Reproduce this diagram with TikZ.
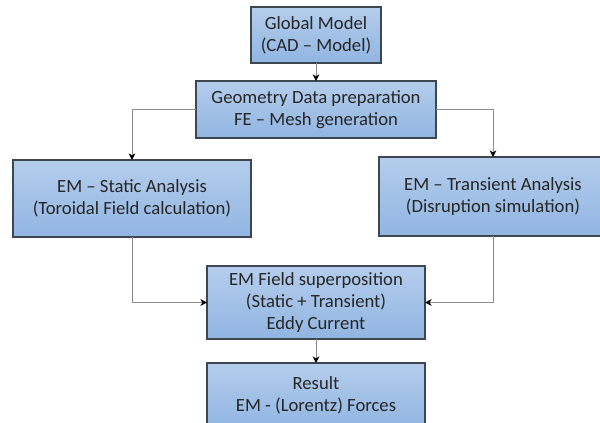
\documentclass[tikz,border=0pt]{standalone}
\usepackage{fontspec}
\setmainfont{Carlito}
\usetikzlibrary{arrows.meta}

\definecolor{boxtop}{HTML}{B4CDEC}
\definecolor{boxbot}{HTML}{91B5E2}
\definecolor{boxline}{HTML}{3E464F}
\definecolor{linkgray}{HTML}{8C8C8C}
\definecolor{boxtext}{HTML}{262626}

\tikzset{
  stepbox/.style={draw=boxline, line width=0.9pt, top color=boxtop, bottom color=boxbot,
    inner sep=0pt, outer sep=0pt, align=center, text=boxtext,
    font=\fontsize{14pt}{16.5pt}\selectfont},
  link/.style={draw=linkgray, line width=0.6pt, -{Stealth[length=5pt,width=5pt,inset=1.6pt,color=black]}}
}

\begin{document}
\begin{tikzpicture}[x=0.75pt, y=-0.75pt]

  \clip (0,0) rectangle (600,423);

  \node[stepbox, minimum width=97.5pt, minimum height=42pt] (glob) at (316,35) {Global Model\\(CAD – Model)};
  \node[stepbox, minimum width=180pt, minimum height=42.75pt] (geom) at (316,109.5) {Geometry Data preparation\\FE – Mesh generation};
  \node[stepbox, minimum width=178.5pt, minimum height=57.75pt] (static) at (132,198.5) {EM – Static Analysis\\(Toroidal Field calculation)};
  \node[stepbox, minimum width=171pt, minimum height=59.25pt] (trans) at (493,196.5) {EM – Transient Analysis\\(Disruption simulation)};
  \node[stepbox, minimum width=163.5pt, minimum height=54.75pt] (superpos) at (316,302.5) {EM Field superposition\\(Static + Transient)\\Eddy Current};
  \node[stepbox, minimum width=163.5pt, minimum height=48.75pt] (result) at (316,395.5) {Result\\EM - (Lorentz) Forces};

  \draw[link] (glob) -- (geom);
  \draw[link] (geom.west) -| (static.north);
  \draw[link] (geom.east) -| (trans.north);
  \draw[link] (static.south) |- (superpos.west);
  \draw[link] (trans.south) |- (superpos.east);
  \draw[link] (superpos) -- (result);

\end{tikzpicture}
\end{document}
